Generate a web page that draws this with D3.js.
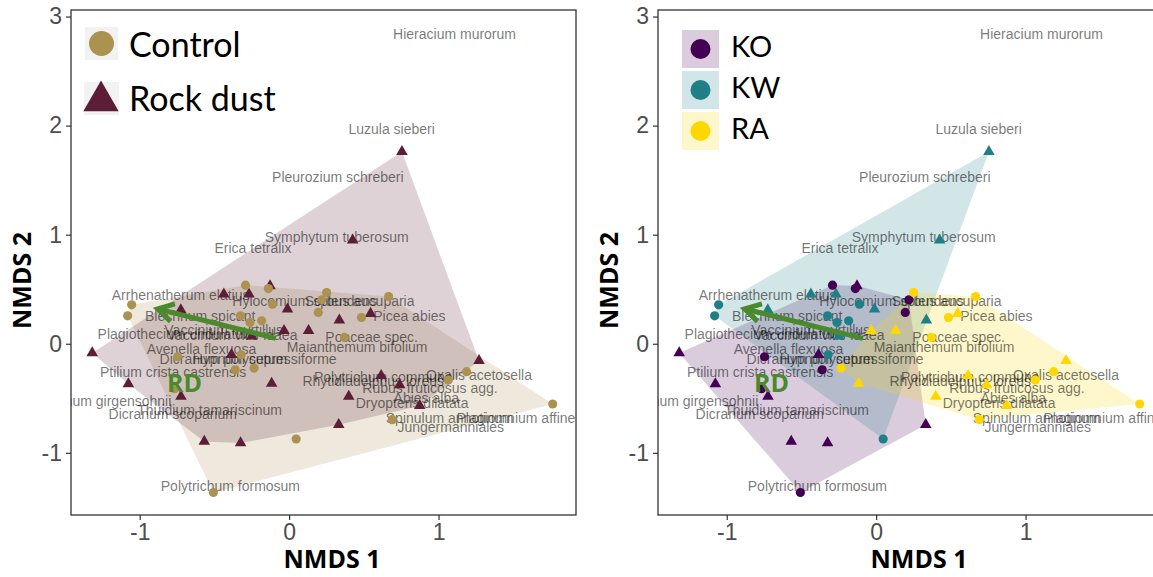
<!DOCTYPE html>
<html>
<head>
<meta charset="utf-8">
<script src="https://cdn.jsdelivr.net/npm/d3@7"></script>
<style>
  body { margin: 0; background: #fff; }
  svg { display: block; }
</style>
</head>
<body>
<svg id="chart" width="1153" height="577"></svg>
<script>
// Site scores of the NMDS ordination
const siteNMDS1 = [
  -0.292, -0.139, 0.219, 0.195, -0.747, -0.361, -0.767, -0.507,
  -0.128, -1.318, -0.386, -1.076, -0.724, -0.568, -0.325, 0.332,
  -1.054, -1.081, -0.325, -0.262, -0.184, -0.112, -0.321, 0.047,
  -0.437, -0.269, -0.725, -0.011, 0.336, -0.250, 0.755, 0.425,
  0.251, 0.666, 0.484, 0.370, -0.235, 1.065, 1.188, 0.690, 1.764,
  0.545, -0.034, 0.130, 1.271, -0.117, 0.616, 0.740, 0.399, 0.874
];
const siteNMDS2 = [
  0.537, 0.506, 0.403, 0.287, -0.119, -0.238, -0.412, -1.364,
  0.531, -0.085, -0.101, -0.369, -0.482, -0.895, -0.910, -0.742,
  0.357, 0.256, 0.256, 0.195, 0.211, 0.363, -0.101, -0.873,
  0.455, 0.455, 0.310, 0.318, 0.217, 0.070, 1.761, 0.950,
  0.470, 0.433, 0.241, 0.058, -0.223, -0.333, -0.256, -0.696, -0.552,
  0.277, 0.119, 0.119, -0.156, -0.363, -0.293, -0.378, -0.482, -0.568
];
const siteTreatment = [
  "Control","Control","Control","Control","Control","Control","Control","Control",
  "Rock dust","Rock dust","Rock dust","Rock dust","Rock dust","Rock dust","Rock dust","Rock dust",
  "Control","Control","Control","Control","Control","Control","Control","Control",
  "Rock dust","Rock dust","Rock dust","Rock dust","Rock dust","Rock dust","Rock dust","Rock dust",
  "Control","Control","Control","Control","Control","Control","Control","Control","Control",
  "Rock dust","Rock dust","Rock dust","Rock dust","Rock dust","Rock dust","Rock dust","Rock dust","Rock dust"
];
const siteLocation = [
  "KO","KO","KO","KO","KO","KO","KO","KO","KO","KO","KO","KO","KO","KO","KO","KO",
  "KW","KW","KW","KW","KW","KW","KW","KW","KW","KW","KW","KW","KW","KW","KW","KW",
  "RA","RA","RA","RA","RA","RA","RA","RA","RA","RA","RA","RA","RA","RA","RA","RA","RA","RA"
];

// Species scores (label positions)
const speciesNames = [
  "Hieracium murorum", "Luzula sieberi", "Pleurozium schreberi", "Symphytum tuberosum",
  "Erica tetralix", "Arrhenatherum elatius", "Hylocomium splendens", "Sorbus aucuparia",
  "Picea abies", "Blechnum spicant", "Plagiothecium undulatum", "Vaccinium myrtillus",
  "Vaccinium vitis-idaea", "Poaceae spec.", "Maianthemum bifolium", "Avenella flexuosa",
  "Dicranum polysetum", "Hypnum cupressiforme", "Ptilium crista castrensis",
  "Rhytidiadelphus loreus", "Polytrichum commune", "Oxalis acetosella",
  "Rubus fruticosus agg.", "Abies alba", "Dryopteris dilatata", "Sphagnum girgensohnii",
  "Dicranum scoparium", "Thuidium tamariscinum", "Polytrichum formosum", "Jungermanniales",
  "Spinulum annotinum", "Plagiomnium affine"
];
const speciesNMDS1 = [
  1.107, 0.686, 0.326, 0.318, -0.242, -0.726, 0.104, 0.472,
  0.805, -0.595, -0.756, -0.438, -0.381, 0.552, 0.455, -0.587,
  -0.440, -0.164, -0.777, 0.563, 0.630, 1.271,
  0.943, 0.918, 0.823, -1.281, -0.779, -0.532, -0.393, 1.082,
  1.074, 1.518
];
const speciesNMDS2 = [
  2.839, 1.970, 1.529, 0.980, 0.879, 0.444, 0.394, 0.394,
  0.256, 0.256, 0.092, 0.128, 0.083, 0.064, -0.027, -0.046,
  -0.137, -0.137, -0.256, -0.339, -0.309, -0.290,
  -0.408, -0.499, -0.545, -0.522, -0.641, -0.609, -1.305, -0.760,
  -0.680, -0.680
];

// Fitted rock dust vector and its label
const rdFrom = [-0.09, 0.05];
const rdTo = [-0.88, 0.32];
const rdLabel = [-0.70, -0.353];

const xTicks = [-1, 0, 1];
const yTicks = [-1, 0, 1, 2, 3];
const xDomain = [-1.46, 1.92];
const yDomain = [-1.57, 3.06];

const treatments = ["Control", "Rock dust"];
const treatmentColors = ["#ab9251", "#5c1e37"];
const locations = ["KO", "KW", "RA"];
const locationColors = ["#440154", "#1f7f87", "#ffd700"];

const svg = d3.select("#chart");
svg.append("rect").attr("width", 1153).attr("height", 577).attr("fill", "#fff");

const sites = siteNMDS1.map((v, i) => ({
  x: v, y: siteNMDS2[i], treatment: siteTreatment[i], location: siteLocation[i]
}));
const species = speciesNames.map((n, i) => ({ name: n, x: speciesNMDS1[i], y: speciesNMDS2[i] }));

const TOP = 10, BOTTOM = 515, WIDTH = 505;

function drawPanel(id, left, groupKey, groups, colors) {
  const x = d3.scaleLinear().domain(xDomain).range([left, left + WIDTH]);
  const y = d3.scaleLinear().domain(yDomain).range([BOTTOM, TOP]);
  const color = d3.scaleOrdinal().domain(groups).range(colors);
  const g = svg.append("g");

  svg.append("clipPath").attr("id", id)
    .append("rect").attr("x", left).attr("y", TOP).attr("width", WIDTH).attr("height", BOTTOM - TOP);
  const plot = g.append("g").attr("clip-path", `url(#${id})`);

  // convex hulls per group
  groups.forEach(grp => {
    const pts = sites.filter(s => s[groupKey] === grp).map(s => [x(s.x), y(s.y)]);
    const hull = d3.polygonHull(pts);
    plot.append("path")
      .attr("d", "M" + hull.join("L") + "Z")
      .attr("fill", color(grp))
      .attr("fill-opacity", 0.2);
  });

  // species names
  plot.append("g").selectAll("text").data(species).join("text")
    .attr("x", d => x(d.x)).attr("y", d => y(d.y))
    .attr("text-anchor", "middle").attr("dominant-baseline", "central")
    .attr("font-family", "'Liberation Sans', Arial, sans-serif")
    .attr("font-size", 14)
    .attr("fill", "#000").attr("fill-opacity", 0.55)
    .text(d => d.name);

  // site points: triangles for rock dust, circles for control
  const tri = d3.symbol().type(d3.symbolTriangle).size(58);
  const circ = d3.symbol().type(d3.symbolCircle).size(66);
  const ordered = sites.filter(s => s.treatment === "Rock dust").concat(sites.filter(s => s.treatment === "Control"));
  plot.append("g").selectAll("path").data(ordered).join("path")
    .attr("transform", d => `translate(${x(d.x)},${y(d.y)})`)
    .attr("d", d => d.treatment === "Control" ? circ() : tri())
    .attr("fill", d => color(d[groupKey]));

  // rock dust vector
  const x0 = x(rdFrom[0]), y0 = y(rdFrom[1]), x1 = x(rdTo[0]), y1 = y(rdTo[1]);
  const ang = Math.atan2(y0 - y1, x0 - x1);
  const headLen = 18, headAng = Math.PI / 6;
  const green = "#4a8a2c";
  plot.append("line").attr("x1", x0).attr("y1", y0).attr("x2", x1).attr("y2", y1)
    .attr("stroke", green).attr("stroke-width", 5).attr("stroke-linecap", "butt");
  plot.append("path")
    .attr("d", `M${x1 + headLen * Math.cos(ang + headAng)},${y1 + headLen * Math.sin(ang + headAng)}` +
               `L${x1},${y1}` +
               `L${x1 + headLen * Math.cos(ang - headAng)},${y1 + headLen * Math.sin(ang - headAng)}`)
    .attr("fill", "none").attr("stroke", green).attr("stroke-width", 5)
    .attr("stroke-linejoin", "miter");
  plot.append("text").attr("x", x(rdLabel[0])).attr("y", y(rdLabel[1]))
    .attr("text-anchor", "middle").attr("dominant-baseline", "central")
    .attr("font-family", "'Open Sans', sans-serif").attr("font-weight", 700)
    .attr("font-size", 25).attr("fill", green).text("RD");

  // panel border
  g.append("rect").attr("x", left).attr("y", TOP).attr("width", WIDTH).attr("height", BOTTOM - TOP)
    .attr("fill", "none").attr("stroke", "#333").attr("stroke-width", 1.3);

  // axes
  const xAxis = d3.axisBottom(x).tickValues(xTicks).tickSize(5).tickPadding(4).tickFormat(d3.format("d"));
  const yAxis = d3.axisLeft(y).tickValues(yTicks).tickSize(5).tickPadding(4).tickFormat(d3.format("d"));
  const gx = g.append("g").attr("transform", `translate(0,${BOTTOM})`).call(xAxis);
  const gy = g.append("g").attr("transform", `translate(${left},0)`).call(yAxis);
  [gx, gy].forEach(a => {
    a.select(".domain").remove();
    a.selectAll(".tick line").attr("stroke", "#333").attr("stroke-width", 1.2);
    a.selectAll(".tick text").attr("fill", "#4d4d4d")
      .attr("font-family", "'Liberation Sans', Arial, sans-serif").attr("font-size", 23)
      .text(d => d < 0 ? "-" + Math.abs(d) : String(d));
  });

  // axis titles
  g.append("text").attr("x", left + 261).attr("y", 568)
    .attr("text-anchor", "middle").attr("font-family", "'Open Sans', sans-serif")
    .attr("font-weight", 700).attr("font-size", 25).attr("fill", "#000").text("NMDS 1");
  g.append("text").attr("transform", `translate(${left - 40},${(TOP + BOTTOM) / 2 + 18}) rotate(-90)`)
    .attr("text-anchor", "middle").attr("font-family", "'Open Sans', sans-serif")
    .attr("font-weight", 700).attr("font-size", 25).attr("fill", "#000").text("NMDS 2");

  return { g, color };
}

// Left panel: treatment
const left = drawPanel("clipL", 71, "treatment", treatments, treatmentColors);
const legL = left.g.append("g");
const tColor = d3.scaleOrdinal().domain(treatments).range(treatmentColors);
legL.append("rect").attr("x", 85).attr("y", 27).attr("width", 33).attr("height", 33).attr("fill", "#f2f2f2");
legL.append("circle").attr("cx", 101.5).attr("cy", 43.5).attr("r", 12.5).attr("fill", tColor("Control"));
legL.append("rect").attr("x", 84).attr("y", 82).attr("width", 35).attr("height", 33).attr("fill", "#f2f2f2");
legL.append("path").attr("transform", "translate(101,101)")
  .attr("d", d3.symbol().type(d3.symbolTriangle).size(540)()).attr("fill", tColor("Rock dust"));
legL.selectAll("text.lab").data(treatments).join("text").attr("class", "lab")
  .attr("x", 129).attr("y", (d, i) => i === 0 ? 57 : 111)
  .attr("font-family", "Lato, sans-serif").attr("font-size", 34).attr("fill", "#000")
  .text(d => d);

// Right panel: location
const right = drawPanel("clipR", 658, "location", locations, locationColors);
const legR = right.g.append("g");
locations.forEach((loc, i) => {
  const top = 30 + i * 41;
  legR.append("rect").attr("x", 682).attr("y", top).attr("width", 37).attr("height", 38)
    .attr("fill", right.color(loc)).attr("fill-opacity", 0.2);
  legR.append("circle").attr("cx", 700.5).attr("cy", top + 19).attr("r", 10).attr("fill", right.color(loc));
  legR.append("text").attr("x", 731).attr("y", top + 27)
    .attr("font-family", "Lato, sans-serif").attr("font-size", 29).attr("fill", "#000").text(loc);
});
</script>
</body>
</html>
